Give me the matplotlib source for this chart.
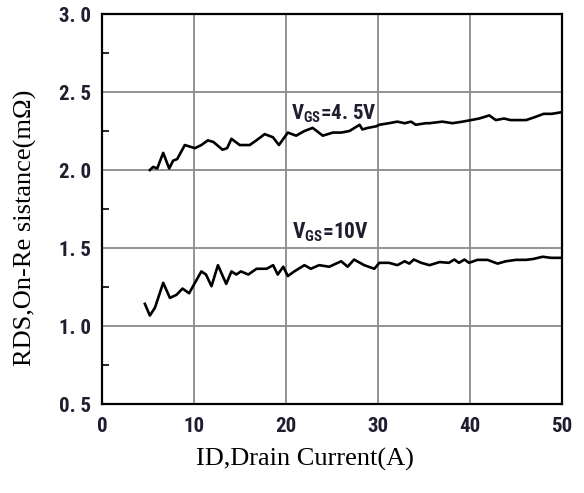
import matplotlib
matplotlib.use("Agg")
import matplotlib.pyplot as plt
from matplotlib import font_manager as fm
from matplotlib.ticker import FixedLocator, MultipleLocator

# ---- data ----
id_45 = [5.2, 5.56, 6.0, 6.65, 7.3, 7.73, 8.17, 9.0, 9.54, 10.1, 10.8, 11.5, 12.1, 13.1, 13.6,
         14.07, 14.97, 16.05, 16.78, 17.68, 18.58, 19.23, 20.2, 21.1, 22.0, 22.9, 24.0, 25.1,
         26.0, 26.9, 28.0, 28.3, 28.9, 29.8, 30.15, 31.2, 32.1, 32.9, 33.6, 34.1, 35.2, 35.6,
         37.0, 38.1, 39.2, 40.1, 41.0, 42.1, 42.8, 43.7, 44.4, 45.2, 46.1, 47.1, 48.0, 48.9, 49.9]
rds_45 = [2.00, 2.02, 2.01, 2.11, 2.01, 2.06, 2.07, 2.16, 2.15, 2.14, 2.16, 2.19, 2.18, 2.13, 2.14,
          2.20, 2.16, 2.16, 2.19, 2.23, 2.21, 2.16, 2.24, 2.22, 2.25, 2.27, 2.22, 2.24,
          2.24, 2.25, 2.29, 2.26, 2.27, 2.28, 2.29, 2.30, 2.31, 2.30, 2.31, 2.29, 2.30, 2.30,
          2.31, 2.30, 2.31, 2.32, 2.33, 2.35, 2.32, 2.33, 2.32, 2.32, 2.32, 2.34, 2.36, 2.36, 2.37]

id_10 = [4.66, 5.2, 5.75, 6.65, 7.38, 8.1, 8.75, 9.47, 10.1, 10.8, 11.3, 11.9, 12.6, 13.5, 14.07,
         14.6, 15.1, 15.9, 16.8, 17.9, 18.6, 19.1, 19.7, 20.2, 20.9, 22.0, 22.7, 23.6, 24.7,
         26.0, 26.7, 27.4, 28.5, 29.6, 30.15, 31.2, 32.1, 32.9, 33.4, 33.9, 34.7, 35.6, 36.7,
         37.7, 38.3, 38.8, 39.4, 39.9, 40.8, 41.9, 43.0, 43.9, 45.0, 46.1, 46.9, 47.9, 48.8, 49.9]
rds_10 = [1.142, 1.067, 1.117, 1.277, 1.18, 1.20, 1.24, 1.21, 1.277, 1.35, 1.33, 1.255, 1.39, 1.27, 1.35,
          1.33, 1.35, 1.33, 1.367, 1.367, 1.39, 1.33, 1.38, 1.32, 1.35, 1.39, 1.367, 1.39, 1.38,
          1.415, 1.38, 1.426, 1.39, 1.367, 1.405, 1.405, 1.39, 1.415, 1.40, 1.426, 1.405, 1.39, 1.41,
          1.405, 1.426, 1.405, 1.426, 1.405, 1.424, 1.424, 1.40, 1.415, 1.424, 1.424, 1.43, 1.444, 1.437, 1.437]

x_ticks = [0, 10, 20, 30, 40, 50]
x_tick_labels = ["0", "10", "20", "30", "40", "50"]
y_ticks = [0.5, 1.0, 1.5, 2.0, 2.5, 3.0]
y_tick_labels = ["0. 5", "1. 0", "1. 5", "2. 0", "2. 5", "3. 0"]

label_45 = "V$_{\\mathregular{GS}}$=4. 5V"
label_10 = "V$_{\\mathregular{GS}}$=10V"


# ---- pick a condensed bold sans if one is installed ----
def condensed_bold():
    prefs = ["Liberation Sans Narrow", "Roboto Condensed", "Noto Sans", "DejaVu Sans",
             "Open Sans", "Roboto", "Noto Sans Display"]
    found = {}
    for f in fm.fontManager.ttflist:
        w = f.weight if isinstance(f.weight, int) else (700 if f.weight == "bold" else 400)
        if f.stretch in ("condensed", "semi-condensed", "extra-condensed") and w == 700 \
                and f.style == "normal" and f.name in prefs:
            found.setdefault(f.name, []).append(f)
    for p in prefs:
        if p in found:
            lst = sorted(found[p], key=lambda f: {"condensed": 0, "semi-condensed": 1,
                                                   "extra-condensed": 2}[f.stretch])
            return fm.FontProperties(fname=lst[0].fname), True
    return fm.FontProperties(family="Liberation Sans", weight="bold"), False


tick_fp, is_cond = condensed_bold()
tick_size = 15 if is_cond else 13.5

serif = ["Liberation Serif", "DejaVu Serif"]
ink = "#1e1e30"

fig = plt.figure(figsize=(5.84, 4.93), dpi=100)
ax = fig.add_axes([0.1747, 0.1805, 0.7876, 0.7911])

ax.plot(id_45, rds_45, color="black", lw=1.9, solid_joinstyle="round")
ax.plot(id_10, rds_10, color="black", lw=1.9, solid_joinstyle="round")

ax.set_xlim(0, 50)
ax.set_ylim(0.5, 3.0)
ax.xaxis.set_major_locator(FixedLocator(x_ticks))
ax.yaxis.set_major_locator(FixedLocator(y_ticks))
ax.set_xticklabels(x_tick_labels, color=ink)
ax.set_yticklabels(y_tick_labels, color=ink)
for t in ax.get_xticklabels() + ax.get_yticklabels():
    t.set_fontproperties(tick_fp)
    t.set_fontsize(tick_size)
ax.yaxis.set_minor_locator(MultipleLocator(0.25))
ax.tick_params(axis="both", which="major", length=0)
ax.tick_params(axis="y", which="major", pad=8)
ax.tick_params(axis="x", which="major", pad=9)
ax.tick_params(axis="y", which="minor", direction="in", length=5, width=1.2, color="black")

ax.grid(True, which="major", color="#8a8a8a", lw=1.3)
for s in ax.spines.values():
    s.set_linewidth(1.6)
    s.set_color("black")

for xv, yv, lab, fs in [(25.2, 2.36, label_45, 15), (24.8, 1.60, label_10, 15.5)]:
    t = ax.text(xv, yv, lab, ha="center", va="center", color=ink)
    t.set_fontproperties(tick_fp)
    t.set_fontsize(fs if is_cond else fs - 2)

fig.text(0.5223, 1 - 459 / 493, "ID,Drain Current(A)", ha="center", va="center",
         family=serif, fontsize=19)
fig.text(25 / 584, 1 - 228 / 493, "RDS,On-Re sistance(mΩ)", ha="center", va="center",
         rotation=90, family=serif, fontsize=19)

fig.savefig("out.png", dpi=100)
